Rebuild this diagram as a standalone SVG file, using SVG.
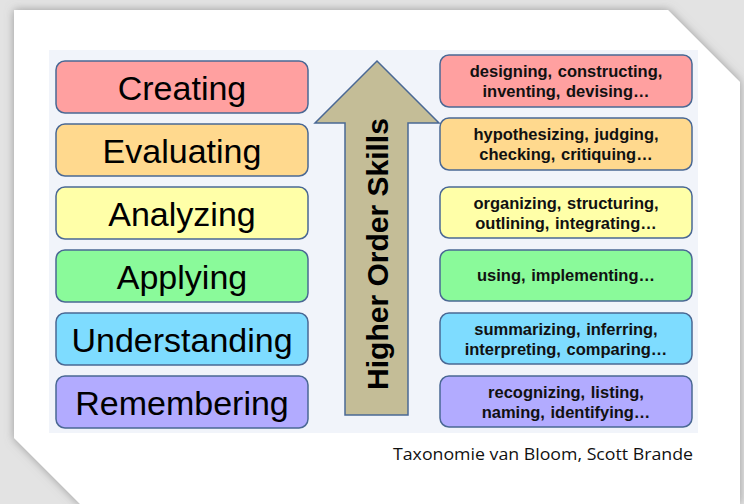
<svg xmlns="http://www.w3.org/2000/svg" width="744" height="504" viewBox="0 0 744 504">
<defs>
<filter id="sh" x="-10%" y="-10%" width="120%" height="120%">
<feDropShadow dx="0" dy="0" stdDeviation="5" flood-color="#7a7a7a" flood-opacity="0.7"/>
</filter>
<style>
.lb{stroke:#4a6894;stroke-width:1.5}
.lt{font-family:"Liberation Sans",Arial,sans-serif;font-size:34px;fill:#000;text-anchor:middle}
.rt{font-family:"Liberation Sans",Arial,sans-serif;font-size:16.5px;font-weight:bold;fill:#111;text-anchor:middle;word-spacing:1px}
</style>
</defs>
<rect x="0" y="0" width="744" height="504" fill="#e3e3e3"/>
<polygon points="14,10 668,10 740,82 740,504 80,504 14,438" fill="#ffffff" filter="url(#sh)"/>
<rect x="49" y="50" width="649" height="383" fill="#f1f4fa"/>
<g id="connectors">
<g id="arrow">
<polygon points="377,61 439,123 408,123 408,415 345,415 345,123 315,123" fill="#c4bd97" stroke="#4a6894" stroke-width="1.5"/>
<text x="0" y="0" transform="translate(388,254) rotate(-90)" font-family="Liberation Sans,Arial,sans-serif" font-size="30" font-weight="bold" text-anchor="middle" fill="#000">Higher Order Skills</text>
</g>
</g>
<g id="creating"><rect class="lb" x="56" y="61" width="252" height="52" rx="9" fill="#ffa0a0"/><text class="lt" x="182" y="100">Creating</text></g>
<g id="evaluating"><rect class="lb" x="56" y="124" width="252" height="52" rx="9" fill="#ffd98e"/><text class="lt" x="182" y="163">Evaluating</text></g>
<g id="analyzing"><rect class="lb" x="56" y="187" width="252" height="52" rx="9" fill="#ffffa8"/><text class="lt" x="182" y="226">Analyzing</text></g>
<g id="applying"><rect class="lb" x="56" y="250" width="252" height="52" rx="9" fill="#8afa9a"/><text class="lt" x="182" y="289">Applying</text></g>
<g id="understanding"><rect class="lb" x="56" y="313" width="252" height="52" rx="9" fill="#7edcff"/><text class="lt" x="182" y="352">Understanding</text></g>
<g id="remembering"><rect class="lb" x="56" y="376" width="252" height="52" rx="9" fill="#b2abff"/><text class="lt" x="182" y="415">Remembering</text></g>
<g id="r-creating"><rect class="lb" x="440" y="55" width="252" height="52" rx="9" fill="#ffa0a0"/><text class="rt" x="566" y="77">designing, constructing,</text><text class="rt" x="566" y="97">inventing, devising…</text></g>
<g id="r-evaluating"><rect class="lb" x="440" y="118" width="252" height="52" rx="9" fill="#ffd98e"/><text class="rt" x="566" y="140">hypothesizing, judging,</text><text class="rt" x="566" y="160">checking, critiquing…</text></g>
<g id="r-analyzing"><rect class="lb" x="440" y="187" width="252" height="51" rx="9" fill="#ffffa8"/><text class="rt" x="566" y="209">organizing, structuring,</text><text class="rt" x="566" y="229">outlining, integrating…</text></g>
<g id="r-applying"><rect class="lb" x="440" y="250" width="252" height="51" rx="9" fill="#8afa9a"/><text class="rt" x="566" y="281">using, implementing…</text></g>
<g id="r-understanding"><rect class="lb" x="440" y="313" width="252" height="51" rx="9" fill="#7edcff"/><text class="rt" x="566" y="335">summarizing, inferring,</text><text class="rt" x="566" y="355">interpreting, comparing…</text></g>
<g id="r-remembering"><rect class="lb" x="440" y="376" width="252" height="51" rx="9" fill="#b2abff"/><text class="rt" x="566" y="398">recognizing, listing,</text><text class="rt" x="566" y="418">naming, identifying…</text></g>
<text x="693" y="460" font-family="Open Sans,Liberation Sans,sans-serif" font-size="16" fill="#111" text-anchor="end" textLength="300" lengthAdjust="spacingAndGlyphs">Taxonomie van Bloom, Scott Brande</text>
</svg>
